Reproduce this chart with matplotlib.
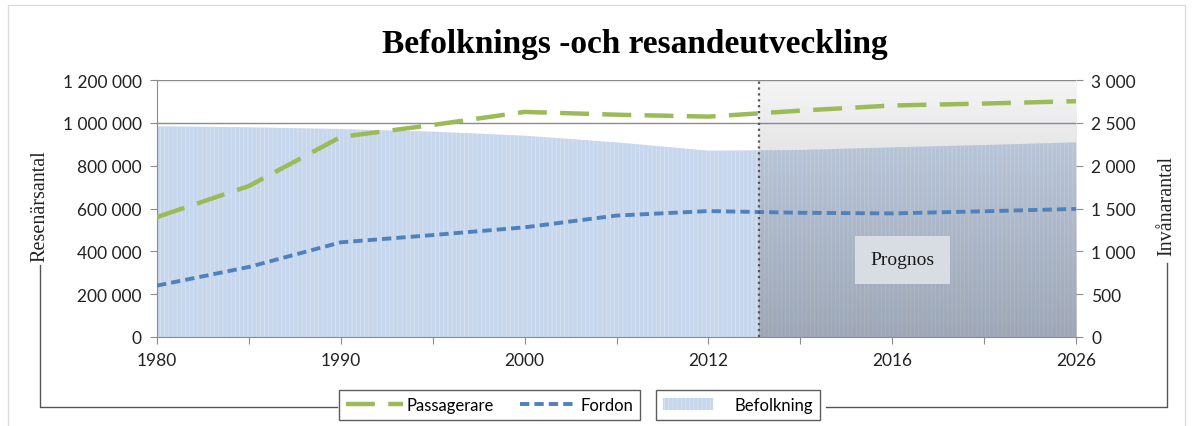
import numpy as np
import matplotlib
matplotlib.use("Agg")
import matplotlib.pyplot as plt
from matplotlib.lines import Line2D
from matplotlib.patches import Patch

# Data
years = ['1980', '', '1990', '', '2000', '', '2012', '', '2016', '', '2026']
passagerare = [560000, 705000, 934000, 990000, 1051000, 1038000, 1029000, 1057000, 1081000, 1090000, 1101000]
fordon = [240000, 327000, 442000, 476000, 512000, 567000, 588000, 580000, 577000, 587000, 598000]
befolkning = [2460, 2448, 2428, 2397, 2350, 2272, 2175, 2183, 2214, 2241, 2272]
prognos_start = 6.55

plt.rcParams['hatch.linewidth'] = 0.5
sans = ['Lato', 'DejaVu Sans']
serif = ['Liberation Serif', 'DejaVu Serif']

fig = plt.figure(figsize=(11.93, 4.27), dpi=100)
W, H = 1193, 427
ax = fig.add_axes([157 / W, 1 - 338 / H, (1076 - 157) / W, (338 - 81) / H])  # population (right axis)
ax2 = ax.twinx()  # passengers / vehicles (left axis)

x = np.arange(len(years))

# population area
ax.fill_between(x, befolkning, color='#c6d6ec', hatch='||||', edgecolor='#dde6f2',
                linewidth=0, zorder=1)
ax.set_ylim(0, 3000)
ax.set_yticks(np.arange(0, 3001, 500))
ax.set_yticklabels(['0', '500', '1 000', '1 500', '2 000', '2 500', '3 000'])
ax.yaxis.tick_right()
ax.yaxis.set_label_position('right')
ax.grid(axis='y', color='#8c8c8c', linewidth=1, zorder=0)
ax.set_axisbelow(True)

# prognosis shading (gray gradient)
grad = np.linspace(0.45, 0.07, 256)[:, None]
img = np.zeros((256, 2, 4))
img[..., 0] = 0.42
img[..., 1] = 0.43
img[..., 2] = 0.46
img[..., 3] = grad
ax.imshow(img, extent=[prognos_start, 10, 0, 3000], origin='lower', aspect='auto', zorder=2)

# lines
ax2.plot(x, passagerare, color='#9bbb59', linewidth=3.2, dashes=(6.5, 3), zorder=3)
ax2.plot(x, fordon, color='#4f81bd', linewidth=2.8, dashes=(2.4, 1.3), zorder=3)
ax2.axvline(prognos_start, color='#555555', linestyle=':', linewidth=1.6, zorder=4)
ax2.set_ylim(0, 1200000)
ax2.set_yticks(np.arange(0, 1200001, 200000))
ax2.set_yticklabels(['0', '200 000', '400 000', '600 000', '800 000', '1 000 000', '1 200 000'])
ax2.yaxis.tick_left()
ax2.yaxis.set_label_position('left')
ax2.text(8.11, 360000, 'Prognos', ha='center', va='center', fontsize=14, family=serif,
         color='#1a1a1a', zorder=5,
         bbox=dict(boxstyle='square,pad=0.8', facecolor='#d8dde3', edgecolor='none'))

ax.set_xlim(0, 10)
ax.set_xticks(x)
ax.set_xticklabels(years)

for a in (ax, ax2):
    for s in a.spines.values():
        s.set_visible(False)
    a.tick_params(labelsize=12.5, colors='#222222', length=5, color='#8c8c8c')
    for lab in a.get_yticklabels() + a.get_xticklabels():
        lab.set_family(sans)
ax.spines['bottom'].set_visible(True)
ax.spines['bottom'].set_color('#8c8c8c')
ax2.spines['left'].set_visible(True)
ax2.spines['left'].set_color('#8c8c8c')
ax.tick_params(axis='x', pad=6)
ax.tick_params(axis='y', pad=6)
ax2.tick_params(axis='y', pad=6)

# titles
fig.text(0.532, 1 - 44 / H, 'Befolknings -och resandeutveckling', ha='center', va='center',
         fontsize=24, fontweight='bold', family=serif)
fig.text(40 / W, 1 - 206 / H, 'Resenärsantal', rotation=90, ha='center', va='center',
         fontsize=14.5, family=serif, color='#222222')
fig.text(1167 / W, 1 - 206 / H, 'Invånarantal', rotation=90, ha='center', va='center',
         fontsize=14.5, family=serif, color='#222222')

# bracket lines
lc = '#555555'
fig.add_artist(Line2D([40 / W, 40 / W, 337 / W], [1 - 266 / H, 1 - 408 / H, 1 - 408 / H],
                      color=lc, linewidth=1))
fig.add_artist(Line2D([826 / W, 1167 / W, 1167 / W], [1 - 408 / H, 1 - 408 / H, 1 - 264 / H],
                      color=lc, linewidth=1))
# chart border
fig.add_artist(Line2D([8 / W, 8 / W, 1185 / W, 1185 / W], [0, 1 - 6 / H, 1 - 6 / H, 0],
                      color='#dcdcdc', linewidth=1))

# legends
h1 = [Line2D([], [], color='#9bbb59', linewidth=3.2, dashes=(6.5, 3)),
      Line2D([], [], color='#4f81bd', linewidth=2.8, dashes=(2.4, 1.3))]
leg1 = fig.legend(h1, ['Passagerare', 'Fordon'], ncol=2, loc='center',
                  bbox_to_anchor=(489.5 / W, 1 - 406 / H), frameon=True, fancybox=False,
                  edgecolor='#333333', prop={'family': sans, 'size': 12},
                  handlelength=3.4, columnspacing=1.6, borderpad=0.4, handletextpad=0.2)
leg1.get_frame().set_linewidth(1)
h2 = [Patch(facecolor='#c6d6ec', hatch='||||', edgecolor='#dde6f2', linewidth=0)]
leg2 = fig.legend(h2, ['Befolkning'], loc='center', bbox_to_anchor=(738 / W, 1 - 406 / H),
                  frameon=True, fancybox=False, edgecolor='#333333',
                  prop={'family': sans, 'size': 12}, handlelength=3.0,
                  borderpad=0.4, borderaxespad=0, handletextpad=1.3)
leg2.get_frame().set_linewidth(1)

fig.savefig('out.png', dpi=100, facecolor='white')
